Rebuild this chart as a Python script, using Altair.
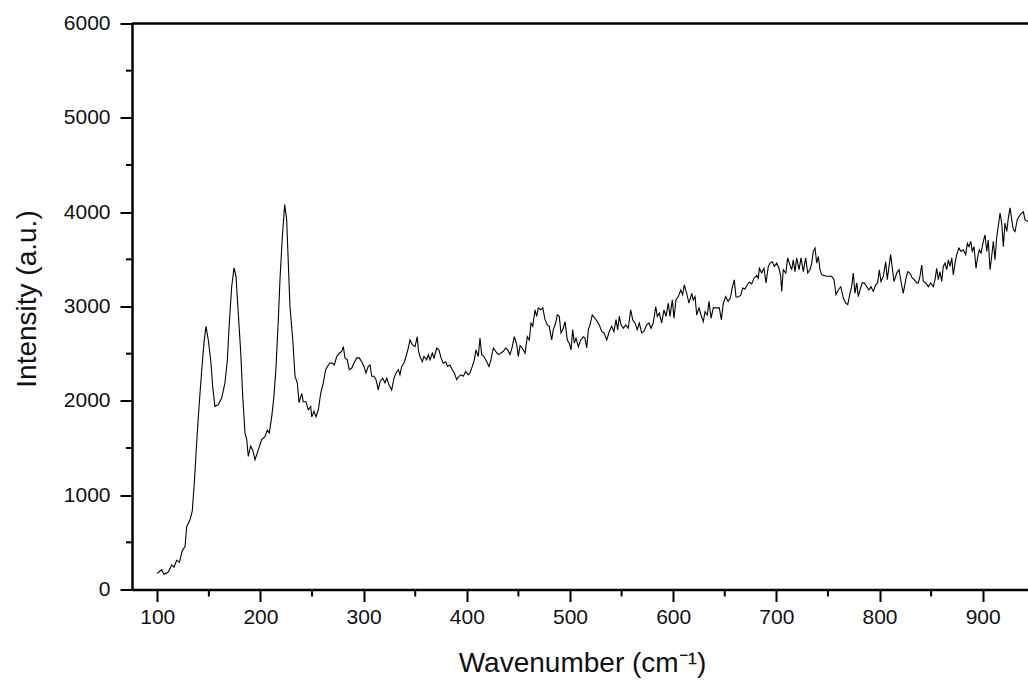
import altair as alt
import pandas as pd

# Raman-like spectrum
wavenumber = [
    100.0, 104.3, 106.5, 110.7, 114.0, 116.2, 118.8, 121.5, 124.3, 126.9,
    128.5, 131.7, 133.9, 135.9, 138.2, 140.4, 143.1, 145.3, 147.2, 149.5,
    151.8, 153.7, 155.9, 159.1, 162.4, 165.6, 167.9, 169.8, 172.1, 174.4,
    176.3, 178.5, 180.9, 182.8, 185.0, 186.7, 188.2, 190.5, 192.5, 194.7,
    197.9, 201.2, 204.4, 206.6, 208.6, 210.9, 213.1, 215.1, 217.3, 218.9,
    221.2, 223.5, 225.4, 227.0, 228.6, 231.3, 233.5, 235.7, 237.4, 240.0,
    241.5, 244.1, 246.4, 248.7, 249.7, 251.9, 253.8, 256.1, 258.4, 260.9,
    263.2, 265.8, 267.4, 269.6, 271.6, 273.9, 276.4, 278.7, 280.3, 281.9,
    284.2, 286.1, 288.4, 290.7, 293.3, 295.8, 298.1, 300.4, 302.3, 304.5,
    306.2, 307.8, 310.0, 312.0, 314.2, 315.9, 318.5, 320.7, 322.4, 324.6,
    327.2, 329.4, 331.4, 333.6, 335.2, 336.9, 339.1, 341.1, 343.3, 344.9,
    347.2, 349.8, 352.0, 353.0, 354.6, 356.9, 358.5, 361.1, 362.7, 364.3,
    366.6, 368.2, 370.8, 373.0, 375.0, 377.2, 379.5, 381.5, 383.7, 385.9,
    387.9, 390.2, 392.4, 394.4, 396.6, 398.9, 401.4, 403.1, 405.3, 407.3,
    408.9, 411.1, 412.8, 414.4, 416.7, 419.3, 421.5, 423.4, 425.7, 428.0,
    430.5, 432.8, 435.4, 437.7, 439.6, 441.9, 444.1, 446.0, 448.4, 449.9,
    451.6, 453.8, 456.4, 458.6, 460.6, 462.2, 463.9, 466.1, 467.7, 469.3,
    471.6, 473.6, 475.8, 478.0, 479.9, 482.3, 483.8, 486.1, 487.7, 489.6,
    491.3, 493.5, 495.2, 497.4, 499.3, 501.0, 502.6, 504.2, 505.8, 508.1,
    510.4, 512.9, 514.5, 516.2, 517.8, 519.4, 521.6, 524.2, 526.5, 528.4,
    530.7, 533.0, 535.6, 538.1, 540.4, 542.6, 544.6, 546.2, 547.8, 549.4,
    551.7, 554.0, 556.5, 558.8, 560.8, 563.0, 565.2, 567.2, 569.5, 571.7,
    574.3, 576.6, 578.5, 580.7, 583.1, 584.6, 586.6, 588.9, 591.1, 593.1,
    595.3, 596.9, 599.2, 600.8, 602.7, 605.0, 607.3, 609.2, 610.8, 613.1,
    615.3, 618.0, 619.5, 621.2, 622.8, 625.0, 627.0, 629.2, 630.9, 633.1,
    634.7, 636.7, 638.9, 642.2, 644.7, 646.7, 648.6, 650.9, 653.2, 655.4,
    657.3, 659.2, 660.9, 663.1, 665.5, 667.4, 669.6, 671.9, 673.8, 676.1,
    678.3, 681.0, 682.5, 683.5, 685.8, 688.0, 690.0, 692.2, 693.9, 696.1,
    698.0, 700.3, 702.6, 704.2, 705.2, 706.7, 709.1, 711.0, 712.6, 714.9,
    716.4, 718.1, 719.7, 722.0, 723.9, 726.1, 728.4, 730.4, 732.6, 734.3,
    735.8, 737.5, 739.1, 740.7, 742.3, 744.0, 748.8, 753.6, 755.9, 757.8,
    760.0, 762.4, 764.9, 767.2, 769.2, 771.4, 773.0, 774.6, 776.2, 777.9,
    779.4, 781.1, 783.3, 785.2, 787.6, 789.8, 791.7, 794.0, 796.3, 798.2,
    799.8, 801.4, 803.7, 806.0, 807.5, 809.2, 810.8, 812.4, 814.0, 816.7,
    818.9, 820.8, 823.0, 825.4, 827.3, 829.5, 831.8, 833.7, 836.0, 837.6,
    839.2, 840.9, 842.4, 844.7, 847.3, 849.6, 852.1, 853.8, 855.4, 857.0,
    858.6, 860.3, 861.8, 863.5, 865.1, 866.7, 868.3, 870.0, 871.5, 873.2,
    874.8, 877.0, 879.0, 881.2, 883.5, 885.1, 886.7, 888.4, 889.9, 891.6,
    893.5, 895.2, 896.7, 898.4, 900.6, 902.2, 903.9, 905.4, 907.1, 908.7,
    910.3, 911.9, 913.6, 915.1, 916.8, 918.4, 920.0, 921.6, 923.3, 924.8,
    926.5, 928.1, 929.7, 931.3, 933.5, 936.1, 937.8, 939.4, 941.0, 943.9,
    946.0,
]

intensity = [
    170, 210, 160, 185, 260, 235, 310, 290, 415, 455,
    665, 740, 830, 1130, 1560, 1930, 2330, 2620, 2790, 2640,
    2430, 2150, 1940, 1960, 2030, 2190, 2430, 2820, 3210, 3410,
    3320, 2930, 2510, 2050, 1660, 1590, 1410, 1520, 1480, 1375,
    1480, 1590, 1620, 1690, 1660, 1830, 2050, 2360, 2860, 3280,
    3740, 4080, 3920, 3460, 3000, 2650, 2260, 2190, 1980, 2080,
    1990, 1990, 1905, 1940, 1830, 1890, 1830, 1905, 2080, 2190,
    2330, 2380, 2400, 2400, 2380, 2470, 2505, 2525, 2575, 2455,
    2435, 2330, 2345, 2400, 2455, 2455, 2415, 2365, 2295, 2365,
    2380, 2260, 2260, 2225, 2115, 2205, 2240, 2190, 2240, 2170,
    2115, 2240, 2295, 2330, 2275, 2365, 2400, 2470, 2560, 2645,
    2595, 2575, 2680, 2540, 2470, 2415, 2470, 2435, 2490, 2435,
    2505, 2455, 2560, 2540, 2455, 2400, 2415, 2365, 2380, 2330,
    2295, 2225, 2260, 2275, 2260, 2310, 2275, 2295, 2365, 2435,
    2540, 2470, 2665, 2490, 2470, 2415, 2365, 2435, 2560, 2525,
    2490, 2505, 2525, 2560, 2540, 2490, 2575, 2680, 2595, 2470,
    2585, 2560, 2505, 2680, 2645, 2825, 2790, 2965, 2895, 2985,
    2965, 2985, 2860, 2805, 2790, 2645, 2755, 2825, 2910, 2895,
    2720, 2770, 2840, 2645, 2610, 2540, 2755, 2610, 2665, 2575,
    2645, 2680, 2665, 2560, 2755, 2805, 2910, 2875, 2840, 2805,
    2735, 2720, 2645, 2735, 2790, 2735, 2860, 2755, 2895, 2805,
    2770, 2805, 2770, 2965, 2860, 2825, 2755, 2825, 2720, 2735,
    2805, 2825, 2770, 2825, 3000, 2895, 2930, 2825, 2965, 2895,
    3035, 2895, 3070, 2875, 3070, 3105, 3175, 3125, 3230, 3140,
    3035, 3140, 3070, 3105, 2910, 2985, 2910, 2840, 2945, 2910,
    3055, 2875, 2985, 2985, 2985, 2860, 3035, 3105, 3055, 3090,
    3200, 3283, 3100, 3100, 3120, 3195, 3185, 3230, 3260, 3240,
    3300, 3330, 3300, 3405, 3355, 3405, 3250, 3425, 3460, 3475,
    3425, 3460, 3405, 3320, 3160, 3390, 3355, 3515, 3460, 3390,
    3495, 3370, 3515, 3390, 3515, 3370, 3515, 3355, 3390, 3460,
    3585, 3620, 3460, 3530, 3390, 3335, 3320, 3320, 3285, 3125,
    3175, 3210, 3090, 3035, 3020, 3140, 3210, 3355, 3140, 3250,
    3105, 3175, 3250, 3250, 3210, 3175, 3210, 3160, 3230, 3250,
    3390, 3265, 3320, 3475, 3285, 3425, 3550, 3405, 3265, 3355,
    3390, 3265, 3140, 3285, 3370, 3355, 3300, 3285, 3250, 3250,
    3320, 3440, 3265, 3250, 3210, 3250, 3210, 3285, 3405, 3285,
    3370, 3265, 3425, 3460, 3390, 3495, 3425, 3515, 3335, 3460,
    3550, 3620, 3585, 3600, 3550, 3670, 3635, 3690, 3585, 3635,
    3405, 3530, 3600, 3565, 3690, 3760, 3585, 3705, 3390, 3530,
    3690, 3495, 3740, 3850, 3990, 3885, 3635, 3885, 3795, 3935,
    4045, 3920, 3815, 3795, 3920, 3970, 3990, 4005, 3920, 3900,
    3920,
]

x_major = [100, 200, 300, 400, 500, 600, 700, 800, 900]
x_minor = [150, 250, 350, 450, 550, 650, 750, 850]
y_major = [0, 1000, 2000, 3000, 4000, 5000, 6000]
y_minor = [500, 1500, 2500, 3500, 4500, 5500]

x_domain = [75.5, 943.9]
y_domain = [0, 6000]

FONT = "Liberation Sans"
W, H = 896, 566

df = pd.DataFrame({"wavenumber": wavenumber, "intensity": intensity})

xscale = alt.Scale(domain=x_domain, nice=False, zero=False)
yscale = alt.Scale(domain=y_domain, nice=False, zero=False)

xaxis = alt.Axis(
    values=x_major, format="d", title="Wavenumber (cm⁻¹)", grid=False,
    tickSize=12, tickWidth=2, tickColor="black",
    domainColor="black", domainWidth=2.5,
    labelFont=FONT, labelFontSize=21, labelColor="#111111", labelPadding=5,
    labelFlush=False, labelOverlap=False,
    titleFont=FONT, titleFontSize=28, titleFontWeight="normal", titleColor="#111111",
    titleX=450, titleY=82, titleAlign="center", titleBaseline="alphabetic",
)
yaxis = alt.Axis(
    values=y_major, format="d", title="Intensity (a.u.)", grid=False,
    tickSize=12, tickWidth=2, tickColor="black",
    domainColor="black", domainWidth=2.5,
    labelFont=FONT, labelFontSize=21, labelColor="#111111", labelPadding=10,
    labelFlush=False, labelOverlap=False,
    titleFont=FONT, titleFontSize=28, titleFontWeight="normal", titleColor="#111111",
    titleX=-105, titleY=275, titleAngle=270, titleAlign="center", titleBaseline="middle",
)

line = alt.Chart(df).mark_line(color="black", strokeWidth=1.1, clip=True).encode(
    x=alt.X("wavenumber:Q", scale=xscale, axis=xaxis),
    y=alt.Y("intensity:Q", scale=yscale, axis=yaxis),
)

y_minor_ticks = alt.Chart(pd.DataFrame({"m": y_minor})).mark_rule(
    color="black", strokeWidth=2
).encode(
    y=alt.Y("m:Q", scale=yscale, axis=yaxis),
    x=alt.value(-6), x2=alt.value(0),
)

x_minor_ticks = alt.Chart(pd.DataFrame({"m": x_minor})).mark_rule(
    color="black", strokeWidth=2
).encode(
    x=alt.X("m:Q", scale=xscale, axis=xaxis),
    y=alt.value(H), y2=alt.value(H + 7),
)

top_border = alt.Chart(pd.DataFrame({"a": [0]})).mark_rule(
    color="black", strokeWidth=2.5
).encode(x=alt.value(0), x2=alt.value(W), y=alt.value(0))

chart = alt.layer(line, y_minor_ticks, x_minor_ticks, top_border).properties(
    width=W, height=H,
    autosize=alt.AutoSizeParams(type="none"),
    padding={"left": 132, "top": 23.5, "right": 0, "bottom": 90.5},
    background="white",
).configure_view(strokeWidth=0)

chart.save("out.html", embed_options={"renderer": "svg", "actions": False})
